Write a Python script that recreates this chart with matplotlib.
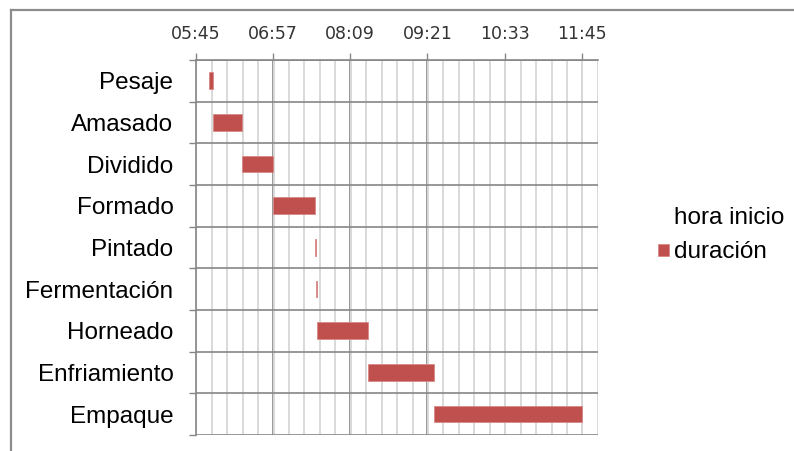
import matplotlib
matplotlib.use("Agg")
import matplotlib.pyplot as plt
from matplotlib.lines import Line2D
from matplotlib.ticker import FixedLocator, MultipleLocator, FuncFormatter

# Process steps, start times and durations (minutes)
categories = ["Pesaje", "Amasado", "Dividido", "Formado", "Pintado",
              "Fermentación", "Horneado", "Enfriamiento", "Empaque"]
hora_inicio = ["05:57", "06:01", "06:28", "06:57", "07:36",
               "07:37", "07:38", "08:26", "09:27"]
duracion = [4, 27, 29, 39, 1, 1, 48, 61, 138]

# Axis range and tick labels
axis_start = "05:45"
axis_end = "12:00"
tick_labels = ["05:45", "06:57", "08:09", "09:21", "10:33", "11:45"]


def to_min(hhmm):
    h, m = hhmm.split(":")
    return int(h) * 60 + int(m)


starts = [to_min(t) for t in hora_inicio]
ticks = [to_min(t) for t in tick_labels]

fig = plt.figure(figsize=(7.94, 4.51), dpi=100)
ax = fig.add_axes([0.2465, 0.0355, 0.7530 - 0.2465, 0.867 - 0.0355])

bar_color = "#C0504D"
grid_dark = "#868686"
grid_light = "#D9D9D9"

y = list(range(len(categories)))

# invisible start series (only shows up in the legend) and the duration bars
ax.barh(y, starts, height=0.4, color="none", label="hora inicio")
ax.barh(y, duracion, left=starts, height=0.4, color=bar_color,
        edgecolor="#D98886", linewidth=0.6, label="duración", zorder=3)

ax.set_xlim(to_min(axis_start), to_min(axis_end))
ax.set_ylim(len(categories) - 0.5, -0.5)

# value axis on top
ax.xaxis.tick_top()
ax.xaxis.set_major_locator(FixedLocator(ticks))
ax.xaxis.set_minor_locator(MultipleLocator(14.4))
ax.xaxis.set_major_formatter(
    FuncFormatter(lambda v, p: f"{int(round(v)) // 60:02d}:{int(round(v)) % 60:02d}"))
ax.tick_params(axis="x", which="major", direction="out", length=5, width=1,
               color=grid_dark, pad=7.5, labelsize=12.5, labelcolor="#333333")
ax.tick_params(axis="x", which="minor", length=0)
for lab in ax.get_xticklabels():
    lab.set_fontfamily("DejaVu Sans")

# category axis: ticks at the boundaries, labels centred on rows
ax.set_yticks(y)
ax.set_yticklabels(categories, fontsize=17.5, fontfamily="Liberation Sans")
ax.yaxis.set_minor_locator(FixedLocator([i - 0.5 for i in range(len(categories) + 1)]))
ax.tick_params(axis="y", which="major", length=0, pad=16)
ax.tick_params(axis="y", which="minor", direction="out", length=5, width=1,
               color=grid_dark)

# gridlines
ax.grid(axis="x", which="minor", color=grid_light, linewidth=1.4, zorder=0)
ax.grid(axis="x", which="major", color=grid_dark, linewidth=1.2, zorder=1)
ax.grid(axis="y", which="minor", color=grid_dark, linewidth=1.2, zorder=1)
ax.set_axisbelow(True)

for side in ["right", "bottom"]:
    ax.spines[side].set_visible(False)
for side in ["left", "top"]:
    ax.spines[side].set_color(grid_dark)
    ax.spines[side].set_linewidth(1.2)

# outer chart frame
fig.add_artist(Line2D([11 / 794, 11 / 794], [0, 1 - 10 / 451],
                      transform=fig.transFigure, color="#8C8C8C", lw=1.6))
fig.add_artist(Line2D([11 / 794, 1], [1 - 10 / 451, 1 - 10 / 451],
                      transform=fig.transFigure, color="#8C8C8C", lw=1.6))

leg = ax.legend(loc="center left", frameon=False,
                prop={"family": "Liberation Sans", "size": 17.5},
                handlelength=0.45, handleheight=0.37, handletextpad=0.2,
                labelspacing=0.52)
leg.set_bbox_to_anchor((636 / 794, 1 - 235 / 451), transform=fig.transFigure)

fig.savefig("out.png", dpi=100)
